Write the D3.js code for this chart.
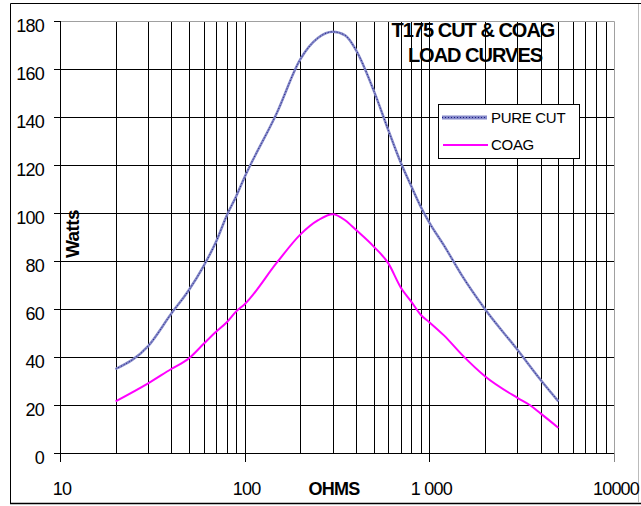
<!DOCTYPE html>
<html lang="en">
<head>
<meta charset="utf-8">
<title>T175 CUT & COAG LOAD CURVES</title>
<script src="https://d3js.org/d3.v7.min.js"></script>
<style>
  body { margin: 0; background: #fff; }
  svg text { font-family: "Liberation Sans", Arial, sans-serif; fill: #000; }
</style>
</head>
<body>
<svg id="chart"></svg>
<script>
var width = 641, height = 506;

// load curves
var cutOhms  = [20, 30, 40, 50, 60, 70, 80, 90, 100, 150, 200, 250, 300, 350, 400, 500, 600, 700, 800, 900, 1000, 1200, 1500, 2000, 3000, 4000, 5000];
var cutWatts = [35, 44.5, 58, 68, 78, 88, 99, 107, 115, 142, 164, 173, 175.5, 174, 168, 151, 134.5, 121, 111, 102.5, 96, 86.5, 74, 60, 43, 30.5, 21.5];

var coagOhms  = [20, 30, 40, 50, 60, 70, 80, 90, 100, 150, 200, 250, 300, 350, 400, 500, 600, 700, 800, 900, 1000, 1200, 1500, 2000, 3000, 3500, 4000, 5000];
var coagWatts = [21.5, 29, 35, 39.5, 45.5, 50.5, 54.5, 59, 62, 79.5, 91, 97, 99.5, 97, 93, 86, 79, 69, 63, 57.5, 54.5, 49, 41, 32, 23, 20, 16.5, 10.5];

var xTicks = [10, 100, 1000, 10000];
var xTickLabels = ["10", "100", "1 000", "10000"];
var yTicks = [0, 20, 40, 60, 80, 100, 120, 140, 160, 180];
var seriesNames = ["PURE CUT", "COAG"];

var svg = d3.select("#chart").attr("width", width).attr("height", height);

var x = d3.scaleLog().domain([10, 10000]).range([60, 614]);
var y = d3.scaleLinear().domain([0, 180]).range([453, 21]);

// outer frame
svg.append("rect").attr("x", 0).attr("y", 0).attr("width", width).attr("height", height).attr("fill", "#fff");
svg.append("path").attr("d", "M10.5,504 V3.5 H641").attr("fill", "none").attr("stroke", "#000");
svg.append("path").attr("d", "M10,503.5 H641").attr("fill", "none").attr("stroke", "#000").attr("stroke-width", 1.5);
svg.append("line").attr("x1", 638.5).attr("x2", 638.5).attr("y1", 4).attr("y2", 503)
  .attr("stroke", "#bbb");

// grid
var minor = x.ticks().filter(function(d) { return d > 10 && d < 10000; });
svg.append("g").selectAll("line").data(minor).join("line")
  .attr("x1", function(d) { return Math.round(x(d)) + 0.5; })
  .attr("x2", function(d) { return Math.round(x(d)) + 0.5; })
  .attr("y1", y(180)).attr("y2", y(0))
  .attr("stroke", "#000").attr("stroke-width", 1);

svg.append("g").selectAll("line").data(yTicks.filter(function(d) { return d > 0 && d < 180; })).join("line")
  .attr("x1", x(10)).attr("x2", x(10000))
  .attr("y1", function(d) { return Math.round(y(d)) + 0.5; })
  .attr("y2", function(d) { return Math.round(y(d)) + 0.5; })
  .attr("stroke", "#000");

// grey plot frame top/right
svg.append("path")
  .attr("d", "M" + x(10) + "," + (Math.round(y(180)) + 0.5) + " H" + (Math.round(x(10000)) + 0.5) + " V" + y(0))
  .attr("fill", "none").attr("stroke", "#a0a0a0");

// axes
svg.append("line").attr("x1", 60.5).attr("x2", 60.5).attr("y1", y(180)).attr("y2", 462).attr("stroke", "#000");
svg.append("line").attr("x1", 54).attr("x2", x(10000)).attr("y1", 453.5).attr("y2", 453.5).attr("stroke", "#000");

svg.append("g").selectAll("line").data(yTicks).join("line")
  .attr("x1", 54).attr("x2", 60)
  .attr("y1", function(d) { return Math.round(y(d)) + 0.5; })
  .attr("y2", function(d) { return Math.round(y(d)) + 0.5; })
  .attr("stroke", "#000");

svg.append("g").selectAll("line").data(xTicks).join("line")
  .attr("x1", function(d) { return Math.round(x(d)) + 0.5; })
  .attr("x2", function(d) { return Math.round(x(d)) + 0.5; })
  .attr("y1", 453).attr("y2", 462)
  .attr("stroke", function(d) { return d === 10000 ? "#888" : "#000"; });

svg.append("g").selectAll("text").data(yTicks).join("text")
  .attr("x", 44).attr("y", function(d) { return y(d) + 11; })
  .attr("text-anchor", "end")
  .attr("font-size", 18).attr("letter-spacing", -0.8)
  .text(function(d) { return d; });

svg.append("g").selectAll("text").data(xTicks).join("text")
  .attr("x", function(d) { return x(d) + 2; }).attr("y", 495)
  .attr("text-anchor", "middle")
  .attr("font-size", 18).attr("letter-spacing", -0.8)
  .text(function(d, i) { return xTickLabels[i]; });

// axis titles
svg.append("text").attr("x", 334).attr("y", 495).attr("text-anchor", "middle")
  .attr("font-size", 18).attr("font-weight", "bold").attr("letter-spacing", -0.8)
  .text("OHMS");
svg.append("text").attr("transform", "translate(79,234) rotate(-90)").attr("text-anchor", "middle")
  .attr("font-size", 19).attr("font-weight", "bold").attr("letter-spacing", -0.6)
  .text("Watts");

// title
var title = svg.append("text").attr("text-anchor", "middle")
  .attr("font-size", 20).attr("font-weight", "bold").attr("letter-spacing", -1);
title.append("tspan").attr("x", 473).attr("y", 37).text("T175 CUT & COAG");
title.append("tspan").attr("x", 475).attr("y", 62).text("LOAD CURVES");

// curves
var line = d3.line().curve(d3.curveMonotoneX)
  .x(function(d) { return x(d[0]); }).y(function(d) { return y(d[1]); });
var cut = d3.zip(cutOhms, cutWatts);
var coag = d3.zip(coagOhms, coagWatts);

svg.append("path").datum(coag).attr("d", line)
  .attr("fill", "none").attr("stroke", "#ff00ff").attr("stroke-width", 2);
svg.append("path").datum(cut).attr("d", line)
  .attr("fill", "none").attr("stroke", "#8589c9").attr("stroke-width", 2.5);
svg.append("path").datum(cut).attr("d", line)
  .attr("fill", "none").attr("stroke", "#1c1c80").attr("stroke-width", 1).attr("stroke-dasharray", "1 2");

// legend
var lg = svg.append("g").attr("transform", "translate(438,104)");
lg.append("rect").attr("x", 0.5).attr("y", 0.5).attr("width", 141).attr("height", 54)
  .attr("fill", "#fff").attr("stroke", "#000");
lg.append("line").attr("x1", 4).attr("x2", 49).attr("y1", 13.5).attr("y2", 13.5)
  .attr("stroke", "#8589c9").attr("stroke-width", 4);
lg.append("line").attr("x1", 4).attr("x2", 49).attr("y1", 13.5).attr("y2", 13.5)
  .attr("stroke", "#1c1c80").attr("stroke-width", 1).attr("stroke-dasharray", "1 2");
lg.append("line").attr("x1", 5).attr("x2", 50).attr("y1", 41).attr("y2", 41)
  .attr("stroke", "#ff00ff").attr("stroke-width", 2);
lg.selectAll("text").data(seriesNames).join("text")
  .attr("x", 53).attr("y", function(d, i) { return 19 + i * 27; })
  .attr("font-size", 15).attr("letter-spacing", -0.3)
  .text(function(d) { return d; });
</script>
</body>
</html>
